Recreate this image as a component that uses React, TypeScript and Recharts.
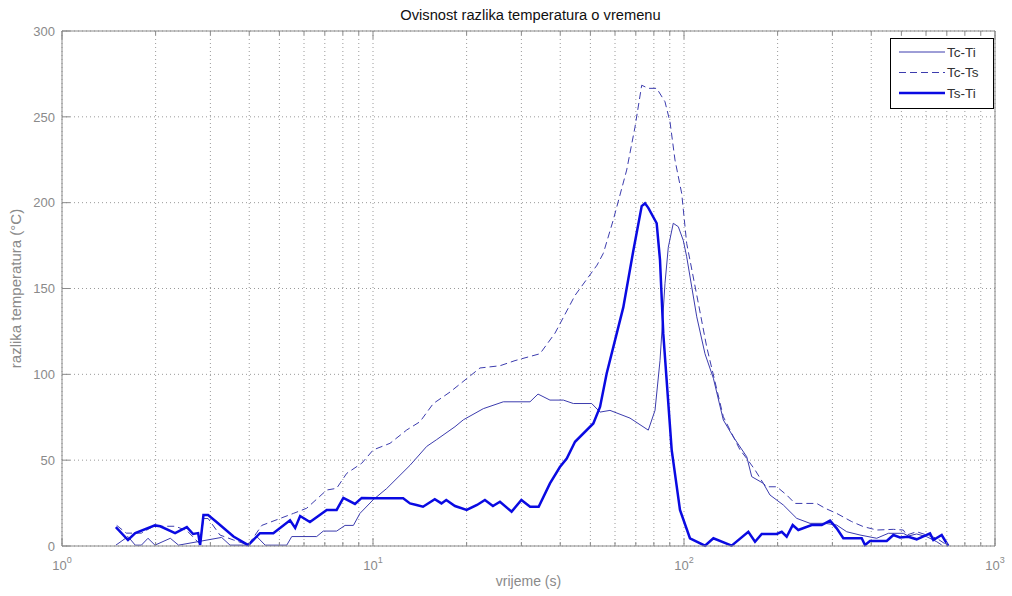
import React from 'react';
import { LineChart, Line, XAxis, YAxis, CartesianGrid, Legend } from 'recharts';

// ---------- data ----------
const seriesNames = ['Tc-Ti', 'Tc-Ts', 'Ts-Ti'];

const tcTiTime = [
  1.49, 1.63, 1.72, 1.8, 1.89, 1.99, 2.23, 2.37, 3.26, 3.47, 3.93, 4.23, 4.5, 5.28, 5.48, 6.59,
  6.92, 7.64, 8.13, 8.65, 9.08, 10.02, 11.07, 13.15, 14.88, 16.03, 18.35, 19.52, 22.63, 26.24,
  31.98, 33.93, 37.07, 40.92, 44.08, 50.49, 53.7, 57.81, 67.04, 76.77, 80.68, 83.72, 86.87,
  89.02, 92.37, 95.87, 99.47, 102.0, 109.9, 116.8, 124.3, 133.8, 144.0, 159.1, 165.1, 179.9,
  189.0, 208.6, 230.4, 254.2, 284.1, 309.7, 333.6, 368.1, 416.5, 454.0, 507.2, 526.3, 560.0,
  603.3, 649.5, 673.9,
];
const tcTiValue = [
  0.5, 5.5, 0.5, 0.5, 4.5, 0.5, 4.5, 0.5, 5, 0.5, 0.5, 5.5, 0.5, 0.5, 5.5, 5.5,
  8.7, 8.7, 12, 12, 19, 27, 33.5, 47, 58, 62, 69.5, 73.5, 80, 84,
  84, 88.5, 85, 85, 83, 83, 78, 79, 74.5, 67.5, 79, 108, 153,
  174, 188, 186, 178, 168.5, 133.5, 112, 97.7, 73.4, 63.6, 52, 40.4, 36.5,
  29.7, 23.9, 16.1, 13.2, 13.2, 12.2, 8.3, 6.4, 4.5, 7.4, 7.4, 5.8, 7,
  5.4, 2.5, 0.6,
];

const tcTsTime = [
  1.5, 1.61, 1.8, 1.97, 2.31, 2.52, 2.78, 2.85, 2.95, 3.22, 3.56, 3.97, 4.39, 5.55, 6.12, 7.1,
  7.64, 8.23, 9.2, 10.02, 11.34, 12.84, 14.16, 15.63, 17.69, 22.08, 25.61, 28.62, 34.43, 38.48,
  44.63, 52.52, 55.03, 59.25, 65.42, 69.57, 73.11, 76.77, 81.69, 86.87, 90.16, 93.56, 98.31,
  102.0, 104.5, 111.2, 118.3, 133.8, 151.4, 159.1, 169.2, 179.9, 184.5, 198.7, 213.9, 227.5,
  267.1, 284.1, 309.7, 346.2, 377.2, 416.5, 471.2, 507.2, 520.1, 560.0, 603.3, 649.5, 699.4,
];
const tcTsValue = [
  12, 7.5, 7.5, 11.5, 11.5, 9, 1, 16, 16, 6.4, 3.5, 0.6, 12, 19, 22, 32.6,
  33.6, 42.3, 48.2, 56, 59.8, 67.6, 72.4, 83, 89.7, 103.7, 105, 108, 112, 124,
  146, 163.6, 170.5, 190, 219, 244, 268.4, 266.6, 266.6, 258.8, 247, 224.8, 205.4,
  176.3, 166.6, 141.4, 116, 75.3, 56, 51, 44.3, 36.5, 34.5, 34.5, 29.7, 24.8,
  24.8, 22, 19, 14.2, 11.3, 9.3, 9.7, 9.3, 6.4, 8.3, 6.4, 4.5, 0.6,
];

const tsTiTime = [
  1.49, 1.63, 1.72, 1.99, 2.07, 2.31, 2.52, 2.64, 2.74, 2.78, 2.85, 2.95, 3.14, 3.56, 3.97, 4.33,
  4.78, 5.41, 5.62, 5.83, 6.27, 7.1, 7.64, 8.03, 8.75, 9.2,
  10.15, 11.6, 12.5, 13.15, 13.8, 14.48, 15.8, 16.6, 17.2, 18.35, 20.0, 21.6, 22.9, 24.3, 25.6,
  27.9, 30.0, 32.0, 34.1, 37.07, 39.9,
  41.97, 44.63, 51.1, 53.7, 56.41, 63.79, 68.71, 73.11, 74.92, 76.77, 81.69, 83.72, 85.78, 91.28,
  97.07, 104.5, 116.8, 124.3, 142.3, 161.0, 169.2, 177.8, 198.7, 206.2, 213.9, 223.6, 233.1,
  257.4, 277.2, 294.8, 309.7, 325.3, 372.8, 381.9, 396.3, 448.6, 471.2, 494.9, 526.3, 560.0,
  618.1, 633.4, 673.9, 707.7,
];
const tsTiValue = [
  11, 3.5, 7.5, 12, 11.5, 7.5, 11, 7, 7.5, 0.5, 18, 18, 14, 5.5, 0.5, 7.5,
  7.5, 15, 10.5, 17.5, 14, 21, 21, 28, 24.5, 28,
  27.8, 27.8, 27.8, 24.8, 23.9, 22.9, 27.2, 24.8, 26.8, 23.3, 21, 23.9, 26.8, 23.3, 25.8,
  20, 26.8, 22.9, 22.9, 36.5, 46,
  51, 60.7, 71.4, 81, 100.5, 139, 172, 198, 199.6, 197, 188, 166.6, 123.7, 56,
  21, 4.5, 0.2, 4.5, 0.2, 8.3, 2.5, 7, 7, 8.3, 5.4, 12.2, 9.3,
  12.2, 12.2, 14.8, 10.3, 4.5, 4.5, 0.6, 2.9, 2.9, 6.4, 5, 5.4, 3.9,
  7.4, 3.5, 6.4, 0,
];

const xTicks = [
  1, 2, 3, 4, 5, 6, 7, 8, 9,
  10, 20, 30, 40, 50, 60, 70, 80, 90,
  100, 200, 300, 400, 500, 600, 700, 800, 900, 1000,
];
const majorXTicks = [1, 10, 100, 1000];
const yTicks = [0, 50, 100, 150, 200, 250, 300];

const titleText = 'Ovisnost razlika temperatura o vremenu';
const xLabelText = 'vrijeme (s)';
const yLabelText = 'razlika temperatura (°C)';

// ---------- build ----------
const toPoints = (t: number[], v: number[]) => t.map((x, i) => ({ t: x, v: v[i] }));
const tcTiData = toPoints(tcTiTime, tcTiValue);
const tcTsData = toPoints(tcTsTime, tcTsValue);
const tsTiData = toPoints(tsTiTime, tsTiValue);

const FONT = "'Liberation Sans', Arial, Helvetica, sans-serif";
const AXIS = '#8a8a8a';
const TEXT = '#8a8a8a';
const THIN = '#3c3cae';
const THICK = '#0a0ae2';
const DASH = '7 4';

const XTick = (props: any) => {
  const { x, y, payload, side } = props;
  const v = payload.value;
  const major = majorXTicks.includes(v);
  const len = major ? 8 : 4;
  const dir = side === 'bottom' ? -1 : 1;
  const exp = Math.round(Math.log10(v));
  return (
    <g>
      <line x1={x} x2={x} y1={y} y2={y + dir * len} stroke={AXIS} strokeWidth={1} />
      {side === 'bottom' && major && (
        <text x={x} y={y + 24} textAnchor="middle" fill={TEXT} fontSize={13} fontFamily={FONT}>
          <tspan>10</tspan>
          <tspan dy={-7} fontSize={9}>{exp}</tspan>
        </text>
      )}
    </g>
  );
};

const YTick = (props: any) => {
  const { x, y, payload, side } = props;
  const dir = side === 'left' ? 1 : -1;
  return (
    <g>
      <line x1={x} x2={x + dir * 8} y1={y} y2={y} stroke={AXIS} strokeWidth={1} />
      {side === 'left' && (
        <text x={x - 7} y={y} dy="0.36em" textAnchor="end" fill={TEXT} fontSize={13} fontFamily={FONT}>
          {payload.value}
        </text>
      )}
    </g>
  );
};

const LegendBox = () => {
  const rows = [
    { name: seriesNames[0], stroke: THIN, width: 1, dash: undefined },
    { name: seriesNames[1], stroke: THIN, width: 1, dash: DASH },
    { name: seriesNames[2], stroke: THICK, width: 2.5, dash: undefined },
  ];
  return (
    <svg width={104} height={71} style={{ display: 'block' }}>
      <rect x={0.5} y={0.5} width={103} height={70} fill="#fff" stroke="#000" strokeWidth={1} />
      {rows.map((r, i) => {
        const cy = 14 + i * 20.5;
        return (
          <g key={r.name}>
            <line x1={9} x2={55} y1={cy} y2={cy} stroke={r.stroke} strokeWidth={r.width} strokeDasharray={r.dash} />
            <text x={57} y={cy} dy="0.36em" fontSize={13.5} fontFamily={FONT} fill="#333">
              {r.name}
            </text>
          </g>
        );
      })}
    </svg>
  );
};

export default function App() {
  return (
    <div style={{ position: 'absolute', left: 0, top: 0, width: 1012, height: 596, background: '#fff' }}>
      <LineChart width={1012} height={596} margin={{ top: 0, right: 0, bottom: 0, left: 0 }}>
        <CartesianGrid stroke="#9a9a9a" strokeDasharray="1 3" strokeWidth={1} />
        <XAxis
          dataKey="t"
          type="number"
          scale="log"
          domain={[1, 1000]}
          allowDataOverflow
          ticks={xTicks}
          interval={0}
          height={50}
          axisLine={{ stroke: AXIS }}
          tickLine={false}
          tickSize={0}
          tickMargin={0}
          tick={(p: any) => <XTick {...p} side="bottom" />}
          label={(p: any) => {
            const vb = p.viewBox || {};
            return (
              <text x={vb.x + vb.width / 2} y={vb.y + 40} textAnchor="middle" fill={TEXT} fontSize={14} fontFamily={FONT}>
                {xLabelText}
              </text>
            );
          }}
        />
        <XAxis
          xAxisId="top"
          orientation="top"
          dataKey="t"
          type="number"
          scale="log"
          domain={[1, 1000]}
          allowDataOverflow
          ticks={xTicks}
          interval={0}
          height={31}
          axisLine={{ stroke: AXIS }}
          tickLine={false}
          tickSize={0}
          tickMargin={0}
          tick={(p: any) => <XTick {...p} side="top" />}
          label={(p: any) => {
            const vb = p.viewBox || {};
            return (
              <text x={vb.x + vb.width / 2 + 2} y={20} textAnchor="middle" fill="#111" fontSize={14.7} fontFamily={FONT}>
                {titleText}
              </text>
            );
          }}
        />
        <YAxis
          type="number"
          domain={[0, 300]}
          ticks={yTicks}
          interval={0}
          width={62}
          axisLine={{ stroke: AXIS }}
          tickLine={false}
          tickSize={0}
          tickMargin={0}
          tick={(p: any) => <YTick {...p} side="left" />}
          label={(p: any) => {
            const vb = p.viewBox || {};
            const cy = vb.y + vb.height / 2;
            return (
              <text x={21} y={cy} transform={`rotate(-90 21 ${cy})`} textAnchor="middle" fill={TEXT} fontSize={15} fontFamily={FONT}>
                {yLabelText}
              </text>
            );
          }}
        />
        <YAxis
          yAxisId="right"
          orientation="right"
          type="number"
          domain={[0, 300]}
          ticks={yTicks}
          interval={0}
          width={17}
          axisLine={{ stroke: AXIS }}
          tickLine={false}
          tickSize={0}
          tickMargin={0}
          tick={(p: any) => <YTick {...p} side="right" />}
        />
        <Legend
          layout="horizontal"
          verticalAlign="middle"
          align="center"
          wrapperStyle={{ left: 890, top: 38, width: 104, height: 71 }}
          content={() => <LegendBox />}
        />
        <Line data={tcTiData} dataKey="v" name={seriesNames[0]} type="linear" stroke={THIN} strokeWidth={1} dot={false} isAnimationActive={false} />
        <Line data={tcTsData} dataKey="v" name={seriesNames[1]} type="linear" stroke={THIN} strokeWidth={1} strokeDasharray={DASH} dot={false} isAnimationActive={false} />
        <Line data={tsTiData} dataKey="v" name={seriesNames[2]} type="linear" stroke={THICK} strokeWidth={2.5} dot={false} isAnimationActive={false} />
      </LineChart>
    </div>
  );
}
